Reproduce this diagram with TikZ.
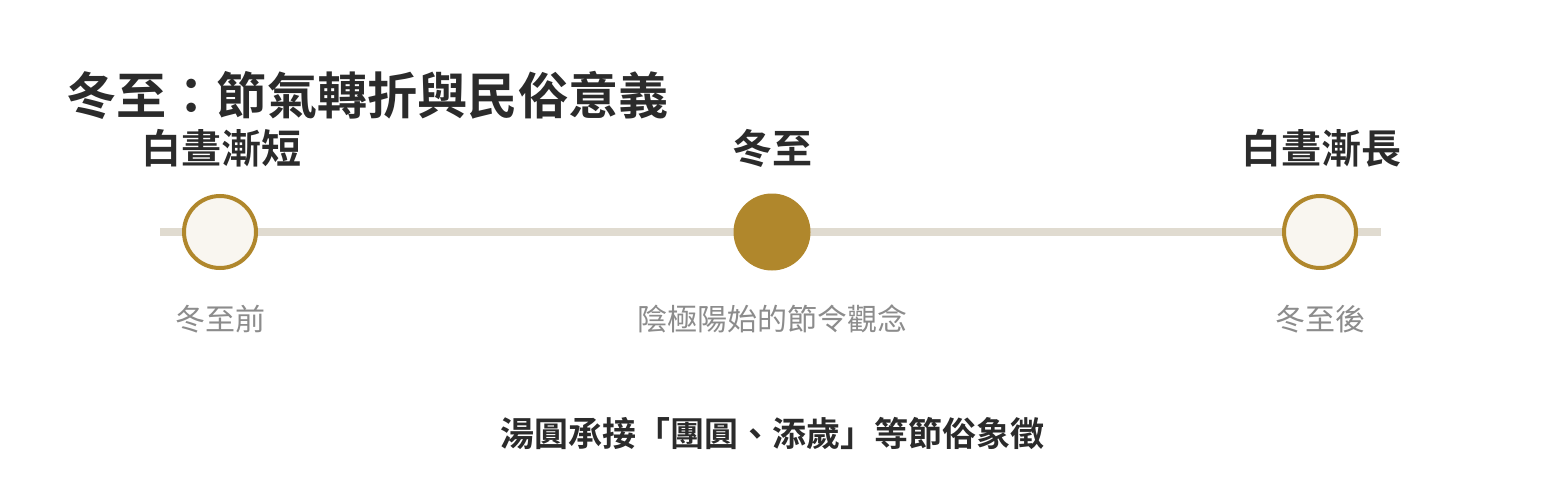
\documentclass[tikz,border=0pt]{standalone}
\usepackage{fontspec}
\newfontfamily\cjk{Noto Sans CJK TC}
\newfontfamily\cjkb{Noto Sans CJK TC Bold}
\definecolor{gold}{HTML}{B0872C}
\definecolor{paper}{HTML}{F9F6F0}
\definecolor{rail}{HTML}{E0DBD0}
\definecolor{ink}{HTML}{2B2B2B}
\definecolor{mute}{HTML}{8C8C8C}
\begin{document}
\begin{tikzpicture}[x=1pt,y=-1pt,
  title/.style={font=\cjkb\fontsize{50.2}{50}\selectfont, text=ink, inner sep=0pt, anchor=base west},
  head/.style={font=\cjkb\fontsize{40}{40}\selectfont, text=ink, inner sep=0pt, anchor=base},
  sub/.style={font=\cjk\fontsize{30}{30}\selectfont, text=mute, inner sep=0pt, anchor=base},
  foot/.style={font=\cjkb\fontsize{34}{34}\selectfont, text=ink, inner sep=0pt, anchor=base},
  dotopen/.style={circle, draw=gold, line width=4pt, fill=paper, minimum size=72pt, inner sep=0pt},
  dotfull/.style={circle, fill=gold, minimum size=77pt, inner sep=0pt}]
\useasboundingbox (0,0) rectangle (1546,500);
\coordinate (rs) at (160,232);
\coordinate (re) at (1381,232);
\draw[rail, line width=8pt] (rs) -- (re);
\node[dotopen] (c1) at (220,232) {};
\node[dotfull] (c2) at (772,232) {};
\node[dotopen] (c3) at (1320,232) {};
\node[title] (t) at (66,115) {冬至：節氣轉折與民俗意義};
\node[head] (h1) at (221,163) {白晝漸短};
\node[head] (h2) at (772,163) {冬至};
\node[head] (h3) at (1321,163) {白晝漸長};
\node[sub] (s1) at (220,330) {冬至前};
\node[sub] (s2) at (772,330) {陰極陽始的節令觀念};
\node[sub] (s3) at (1320,330) {冬至後};
\node[foot] (f) at (772,446) {湯圓承接「團圓、添歲」等節俗象徵};
\end{tikzpicture}
\end{document}
